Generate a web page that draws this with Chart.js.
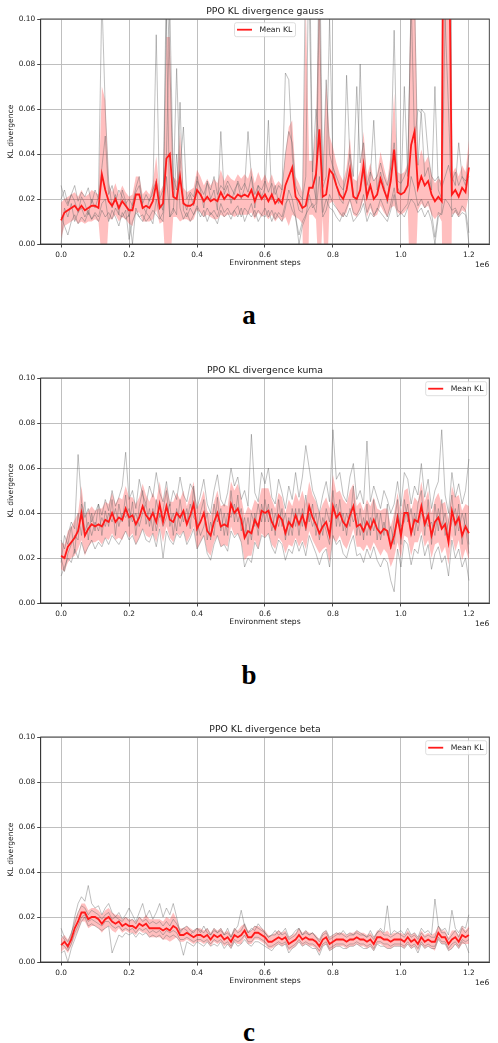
<!DOCTYPE html>
<html lang="en">
<head>
  <meta charset="UTF-8" />
  <title>PPO KL divergence</title>
  <script src="https://cdn.jsdelivr.net/npm/chart.js"></script>
  <style>
    body {
      margin: 0;
      width: 498px;
      height: 1043px;
      position: relative;
      overflow: hidden;
      background: #fff;
    }
    .panel {
      position: absolute;
      left: 0;
      width: 498px;
      height: 280px;
    }
    .letter {
      position: absolute;
      left: 0;
      width: 498px;
      text-align: center;
      font-family: "Liberation Serif", serif;
      font-weight: bold;
      font-size: 27px;
      line-height: 27px;
      color: #000;
    }
  </style>
</head>
<body>
  <div class="panel" style="top:-1px"><canvas id="chartGauss" width="498" height="280"></canvas></div>
  <div class="letter" style="top:302px">a</div>
  <div class="panel" style="top:358px"><canvas id="chartKuma" width="498" height="280"></canvas></div>
  <div class="letter" style="top:662px">b</div>
  <div class="panel" style="top:717px"><canvas id="chartBeta" width="498" height="280"></canvas></div>
  <div class="letter" style="top:1019px">c</div>

  <script>
    // environment steps, in units of 1e6
    const steps = [
      0.00,0.01,0.02,0.03,0.04,0.05,0.06,0.07,0.08,0.09,
      0.10,0.11,0.12,0.13,0.14,0.15,0.16,0.17,0.18,0.19,
      0.20,0.21,0.22,0.23,0.24,0.25,0.26,0.27,0.28,0.29,
      0.30,0.31,0.32,0.33,0.34,0.35,0.36,0.37,0.38,0.39,
      0.40,0.41,0.42,0.43,0.44,0.45,0.46,0.47,0.48,0.49,
      0.50,0.51,0.52,0.53,0.54,0.55,0.56,0.57,0.58,0.59,
      0.60,0.61,0.62,0.63,0.64,0.65,0.66,0.67,0.68,0.69,
      0.70,0.71,0.72,0.73,0.74,0.75,0.76,0.77,0.78,0.79,
      0.80,0.81,0.82,0.83,0.84,0.85,0.86,0.87,0.88,0.89,
      0.90,0.91,0.92,0.93,0.94,0.95,0.96,0.97,0.98,0.99,
      1.00,1.01,1.02,1.03,1.04,1.05,1.06,1.07,1.08,1.09,
      1.10,1.11,1.12,1.13,1.14,1.15,1.16,1.17,1.18,1.19,1.20
    ];

    const xTicks = [0, 0.2, 0.4, 0.6, 0.8, 1.0, 1.2];
    const xTickLabels = ["0.0", "0.2", "0.4", "0.6", "0.8", "1.0", "1.2"];
    const yTicks = [0, 0.02, 0.04, 0.06, 0.08, 0.10];
    const yTickLabels = ["0.00", "0.02", "0.04", "0.06", "0.08", "0.10"];

    // ---- gauss ----
    const gaussMean = [
      0.0105,0.014,0.015,0.016,0.017,0.015,0.017,0.015,0.016,0.017,
      0.017,0.016,0.031,0.024,0.019,0.017,0.020,0.016,0.019,0.017,
      0.015,0.015,0.022,0.022,0.016,0.017,0.016,0.019,0.027,0.016,
      0.018,0.038,0.040,0.021,0.020,0.030,0.018,0.017,0.017,0.018,
      0.024,0.022,0.019,0.021,0.019,0.020,0.019,0.023,0.020,0.022,
      0.021,0.020,0.022,0.021,0.022,0.021,0.024,0.019,0.023,0.020,
      0.022,0.019,0.022,0.018,0.020,0.018,0.026,0.030,0.034,0.021,
      0.019,0.016,0.017,0.025,0.025,0.031,0.051,0.021,0.022,0.033,
      0.031,0.026,0.022,0.020,0.024,0.033,0.021,0.020,0.024,0.035,
      0.021,0.026,0.020,0.022,0.029,0.024,0.020,0.028,0.042,0.023,
      0.022,0.023,0.026,0.044,0.050,0.025,0.030,0.026,0.028,0.022,
      0.019,0.021,0.019,0.300,0.160,0.022,0.024,0.021,0.025,0.023,0.034
    ];
    const gaussStd = [
      0.008,0.006,0.006,0.006,0.006,0.006,0.007,0.006,0.006,0.007,
      0.006,0.006,0.039,0.040,0.008,0.006,0.007,0.006,0.007,0.006,
      0.006,0.007,0.008,0.008,0.006,0.007,0.006,0.008,0.012,0.007,
      0.008,0.054,0.052,0.009,0.008,0.020,0.007,0.006,0.007,0.007,
      0.009,0.008,0.007,0.008,0.007,0.009,0.008,0.010,0.008,0.009,
      0.008,0.008,0.009,0.008,0.009,0.008,0.010,0.008,0.009,0.008,
      0.009,0.008,0.009,0.008,0.008,0.008,0.014,0.022,0.021,0.009,
      0.008,0.007,0.090,0.012,0.012,0.020,0.070,0.009,0.050,0.015,
      0.012,0.010,0.009,0.008,0.010,0.014,0.008,0.008,0.009,0.015,
      0.009,0.010,0.008,0.009,0.012,0.010,0.008,0.012,0.025,0.009,
      0.009,0.009,0.010,0.080,0.075,0.010,0.012,0.010,0.011,0.009,
      0.008,0.008,0.009,0.400,0.300,0.009,0.010,0.009,0.010,0.009,0.012
    ];
    const gaussRun1 = [
      0.026,0.020,0.017,0.022,0.019,0.014,0.021,0.018,0.013,0.020,
      0.016,0.021,0.110,0.060,0.028,0.016,0.022,0.013,0.024,0.019,
      0.012,0.018,0.025,0.030,0.017,0.014,0.020,0.022,0.093,0.018,
      0.015,0.120,0.080,0.024,0.078,0.030,0.019,0.015,0.022,0.017,
      0.030,0.024,0.016,0.028,0.020,0.024,0.015,0.050,0.022,0.026,
      0.018,0.024,0.027,0.020,0.025,0.050,0.030,0.016,0.026,0.021,
      0.025,0.055,0.020,0.026,0.018,0.024,0.076,0.073,0.040,0.022,
      0.015,0.014,0.130,0.110,0.028,0.020,0.140,0.025,0.030,0.100,
      0.035,0.026,0.020,0.018,0.075,0.038,0.022,0.018,0.080,0.030,
      0.020,0.030,0.055,0.024,0.032,0.026,0.018,0.035,0.095,0.025,
      0.022,0.070,0.030,0.110,0.045,0.060,0.058,0.030,0.034,0.024,
      0.070,0.024,0.020,0.500,0.400,0.030,0.026,0.045,0.030,0.026,0.040
    ];
    const gaussRun2 = [
      0.012,0.008,0.004,0.010,0.013,0.009,0.012,0.010,0.014,0.011,
      0.013,0.010,0.015,0.012,0.014,0.011,0.016,0.013,0.012,0.015,
      0.002,0.010,0.014,0.012,0.013,0.010,0.012,0.015,0.013,0.011,
      0.014,0.100,0.012,0.016,0.013,0.063,0.015,0.012,0.016,0.013,
      0.017,0.014,0.012,0.016,0.013,0.015,0.012,0.018,0.014,0.016,
      0.013,0.015,0.017,0.012,0.016,0.014,0.018,0.012,0.015,0.013,
      0.016,0.012,0.015,0.011,0.014,0.012,0.018,0.020,0.015,0.012,
      0.004,0.010,0.013,0.016,0.018,0.014,0.030,0.012,0.015,0.022,
      0.018,0.016,0.014,0.012,0.016,0.020,0.014,0.013,0.016,0.022,
      0.014,0.018,0.013,0.015,0.020,0.016,0.012,0.018,0.025,0.015,
      0.014,0.016,0.018,0.030,0.025,0.017,0.020,0.016,0.019,0.014,
      0.003,0.014,0.013,0.020,0.018,0.015,0.016,0.013,0.017,0.015,0.005
    ];
    const gaussRun3 = [
      0.020,0.024,0.018,0.022,0.026,0.019,0.023,0.021,0.025,0.018,
      0.024,0.020,0.034,0.048,0.022,0.026,0.019,0.024,0.021,0.018,
      0.020,0.017,0.023,0.026,0.018,0.022,0.019,0.024,0.028,0.020,
      0.024,0.040,0.105,0.030,0.024,0.034,0.052,0.020,0.023,0.021,
      0.028,0.025,0.022,0.027,0.024,0.030,0.022,0.026,0.024,0.028,
      0.025,0.022,0.028,0.024,0.027,0.023,0.030,0.022,0.026,0.024,
      0.028,0.023,0.027,0.022,0.026,0.024,0.040,0.050,0.045,0.026,
      0.022,0.020,0.030,0.140,0.032,0.060,0.045,0.028,0.073,0.040,
      0.034,0.030,0.026,0.024,0.030,0.040,0.030,0.070,0.036,0.045,
      0.026,0.032,0.028,0.030,0.036,0.030,0.026,0.034,0.045,0.028,
      0.027,0.030,0.034,0.105,0.110,0.035,0.060,0.058,0.040,0.030,
      0.028,0.030,0.025,0.030,0.035,0.028,0.032,0.026,0.030,0.028,0.030
    ];
    const gaussRun4 = [
      0.000,0.016,0.012,0.018,0.010,0.014,0.016,0.012,0.015,0.011,
      0.014,0.012,0.018,0.020,0.010,0.015,0.012,0.008,0.014,0.011,
      0.013,0.000,0.016,0.012,0.010,0.014,0.012,0.009,0.020,0.012,
      0.010,0.030,0.012,0.014,0.040,0.016,0.011,0.014,0.010,0.013,
      0.016,0.012,0.015,0.010,0.014,0.012,0.009,0.015,0.012,0.014,
      0.011,0.015,0.012,0.016,0.010,0.014,0.012,0.015,0.010,0.013,
      0.012,0.015,0.010,0.014,0.012,0.010,0.016,0.024,0.020,0.012,
      0.000,0.008,0.012,0.022,0.016,0.018,0.110,0.014,0.020,0.016,
      0.015,0.012,0.010,0.014,0.012,0.016,0.010,0.012,0.014,0.018,
      0.010,0.014,0.012,0.016,0.014,0.012,0.010,0.015,0.022,0.012,
      0.014,0.012,0.016,0.020,0.018,0.014,0.016,0.012,0.015,0.010,
      0.000,0.012,0.014,0.100,0.060,0.012,0.015,0.012,0.014,0.013,0.000
    ];

    // ---- kuma ----
    const kumaMean = [
      0.021,0.020,0.025,0.027,0.029,0.032,0.040,0.030,0.033,0.035,
      0.034,0.035,0.034,0.037,0.036,0.040,0.036,0.038,0.037,0.042,
      0.038,0.039,0.035,0.038,0.043,0.039,0.037,0.040,0.036,0.044,
      0.036,0.043,0.037,0.036,0.040,0.038,0.041,0.035,0.039,0.044,
      0.033,0.036,0.040,0.032,0.030,0.036,0.040,0.034,0.035,0.034,
      0.044,0.040,0.042,0.037,0.029,0.032,0.031,0.037,0.034,0.041,
      0.040,0.041,0.036,0.033,0.039,0.037,0.031,0.036,0.034,0.039,
      0.035,0.039,0.034,0.043,0.038,0.035,0.031,0.034,0.036,0.030,
      0.043,0.038,0.040,0.036,0.034,0.039,0.043,0.034,0.035,0.032,
      0.036,0.033,0.037,0.033,0.031,0.033,0.032,0.025,0.030,0.038,
      0.030,0.040,0.040,0.031,0.037,0.036,0.043,0.035,0.039,0.030,
      0.036,0.038,0.033,0.035,0.027,0.041,0.035,0.038,0.030,0.034,0.031
    ];
    const kumaStd = [
      0.006,0.006,0.007,0.007,0.008,0.008,0.012,0.009,0.008,0.008,
      0.007,0.007,0.008,0.008,0.008,0.009,0.008,0.009,0.009,0.010,
      0.009,0.008,0.009,0.009,0.010,0.009,0.008,0.009,0.009,0.010,
      0.009,0.009,0.008,0.009,0.009,0.008,0.009,0.008,0.009,0.010,
      0.009,0.009,0.010,0.009,0.009,0.009,0.010,0.009,0.009,0.009,
      0.010,0.010,0.011,0.010,0.010,0.011,0.010,0.009,0.010,0.010,
      0.011,0.010,0.010,0.009,0.010,0.010,0.009,0.010,0.009,0.010,
      0.010,0.011,0.010,0.011,0.010,0.010,0.009,0.010,0.011,0.012,
      0.014,0.011,0.010,0.010,0.010,0.011,0.010,0.009,0.010,0.009,
      0.010,0.010,0.010,0.009,0.010,0.009,0.010,0.009,0.010,0.011,
      0.010,0.010,0.011,0.010,0.010,0.009,0.011,0.010,0.011,0.010,
      0.010,0.011,0.011,0.010,0.010,0.011,0.012,0.010,0.011,0.010,0.012
    ];
    const kumaRun1 = [
      0.028,0.024,0.030,0.036,0.033,0.066,0.045,0.038,0.042,0.036,
      0.040,0.044,0.039,0.046,0.041,0.050,0.043,0.047,0.052,0.067,
      0.046,0.050,0.042,0.055,0.048,0.044,0.052,0.047,0.058,0.049,
      0.045,0.054,0.043,0.050,0.046,0.056,0.048,0.045,0.053,0.050,
      0.042,0.048,0.055,0.044,0.040,0.050,0.057,0.046,0.043,0.049,
      0.060,0.052,0.056,0.046,0.050,0.043,0.075,0.049,0.045,0.058,
      0.053,0.060,0.047,0.044,0.055,0.049,0.042,0.052,0.046,0.058,
      0.047,0.056,0.070,0.060,0.050,0.046,0.040,0.048,0.054,0.045,
      0.077,0.055,0.058,0.048,0.045,0.056,0.062,0.046,0.050,0.044,
      0.072,0.045,0.052,0.047,0.042,0.050,0.046,0.040,0.044,0.054,
      0.043,0.058,0.055,0.044,0.052,0.048,0.062,0.047,0.055,0.042,
      0.050,0.054,0.077,0.048,0.040,0.058,0.047,0.053,0.044,0.050,0.064
    ];
    const kumaRun2 = [
      0.012,0.016,0.020,0.018,0.024,0.020,0.027,0.022,0.025,0.028,
      0.024,0.027,0.025,0.029,0.026,0.030,0.028,0.026,0.029,0.032,
      0.028,0.030,0.026,0.029,0.033,0.028,0.027,0.031,0.025,0.033,
      0.020,0.032,0.028,0.026,0.031,0.029,0.032,0.026,0.029,0.033,
      0.024,0.027,0.030,0.022,0.019,0.026,0.030,0.025,0.026,0.023,
      0.032,0.029,0.031,0.027,0.016,0.020,0.018,0.027,0.024,0.030,
      0.029,0.031,0.025,0.022,0.028,0.026,0.019,0.024,0.022,0.028,
      0.023,0.027,0.021,0.030,0.026,0.022,0.017,0.022,0.024,0.016,
      0.030,0.026,0.028,0.022,0.020,0.026,0.030,0.021,0.022,0.018,
      0.024,0.020,0.025,0.019,0.016,0.020,0.018,0.010,0.005,0.024,
      0.016,0.028,0.026,0.017,0.024,0.022,0.030,0.021,0.026,0.015,
      0.022,0.025,0.018,0.021,0.012,0.028,0.020,0.024,0.016,0.020,0.010
    ];
    const kumaRun3 = [
      0.018,0.030,0.026,0.034,0.022,0.040,0.030,0.045,0.028,0.040,
      0.032,0.044,0.030,0.041,0.034,0.046,0.030,0.044,0.036,0.048,
      0.034,0.045,0.030,0.043,0.050,0.035,0.042,0.032,0.046,0.038,
      0.041,0.050,0.034,0.040,0.032,0.046,0.036,0.042,0.033,0.052,
      0.030,0.040,0.046,0.028,0.036,0.030,0.047,0.032,0.040,0.030,
      0.050,0.036,0.048,0.032,0.038,0.026,0.040,0.034,0.044,0.036,
      0.046,0.036,0.042,0.030,0.046,0.034,0.040,0.030,0.042,0.034,
      0.042,0.034,0.048,0.036,0.044,0.030,0.040,0.030,0.042,0.036,
      0.050,0.034,0.046,0.032,0.040,0.034,0.052,0.030,0.042,0.028,
      0.044,0.030,0.046,0.028,0.040,0.030,0.044,0.024,0.036,0.046,
      0.026,0.046,0.036,0.042,0.030,0.044,0.050,0.030,0.046,0.026,
      0.044,0.032,0.046,0.030,0.036,0.048,0.030,0.044,0.026,0.040,0.026
    ];
    const kumaRun4 = [
      0.020,0.014,0.022,0.026,0.030,0.028,0.044,0.032,0.036,0.030,
      0.036,0.032,0.038,0.034,0.040,0.036,0.042,0.034,0.040,0.038,
      0.042,0.036,0.040,0.034,0.040,0.044,0.034,0.042,0.032,0.040,
      0.034,0.038,0.044,0.030,0.042,0.034,0.040,0.036,0.044,0.038,
      0.036,0.030,0.034,0.040,0.028,0.044,0.036,0.042,0.030,0.040,
      0.038,0.044,0.036,0.042,0.030,0.038,0.028,0.040,0.030,0.044,
      0.036,0.044,0.032,0.040,0.034,0.042,0.028,0.038,0.030,0.042,
      0.030,0.042,0.032,0.040,0.034,0.040,0.028,0.038,0.032,0.026,
      0.040,0.044,0.034,0.040,0.030,0.042,0.036,0.040,0.030,0.038,
      0.030,0.038,0.032,0.040,0.028,0.036,0.030,0.034,0.026,0.040,
      0.034,0.036,0.044,0.030,0.040,0.032,0.040,0.038,0.034,0.036,
      0.030,0.042,0.034,0.040,0.030,0.036,0.042,0.032,0.040,0.034,0.022
    ];

    // ---- beta ----
    const betaMean = [
      0.0075,0.009,0.007,0.010,0.015,0.018,0.022,0.022,0.019,0.020,
      0.020,0.019,0.017,0.019,0.020,0.018,0.017,0.018,0.016,0.017,
      0.016,0.016,0.015,0.017,0.016,0.017,0.015,0.015,0.015,0.015,
      0.014,0.015,0.014,0.016,0.015,0.012,0.012,0.013,0.012,0.011,
      0.012,0.012,0.011,0.012,0.010,0.012,0.011,0.012,0.010,0.011,
      0.009,0.012,0.011,0.012,0.014,0.011,0.011,0.013,0.013,0.012,
      0.011,0.009,0.009,0.010,0.011,0.010,0.011,0.008,0.009,0.010,
      0.012,0.010,0.011,0.010,0.010,0.009,0.007,0.010,0.011,0.008,
      0.009,0.010,0.010,0.010,0.009,0.010,0.010,0.011,0.010,0.010,
      0.009,0.010,0.008,0.011,0.011,0.010,0.010,0.009,0.010,0.010,
      0.010,0.009,0.011,0.009,0.010,0.008,0.011,0.009,0.010,0.009,
      0.009,0.013,0.011,0.011,0.008,0.010,0.011,0.009,0.012,0.011,0.012
    ];
    const betaStd = [
      0.003,0.003,0.003,0.003,0.004,0.004,0.004,0.004,0.004,0.004,
      0.004,0.004,0.004,0.004,0.004,0.004,0.004,0.003,0.003,0.003,
      0.003,0.003,0.003,0.003,0.003,0.004,0.004,0.004,0.004,0.004,
      0.004,0.005,0.005,0.006,0.004,0.003,0.003,0.003,0.003,0.003,
      0.003,0.003,0.003,0.003,0.003,0.003,0.003,0.003,0.003,0.003,
      0.003,0.003,0.003,0.004,0.003,0.003,0.003,0.003,0.003,0.003,
      0.003,0.003,0.003,0.003,0.003,0.003,0.003,0.003,0.003,0.003,
      0.003,0.003,0.003,0.003,0.003,0.003,0.003,0.003,0.003,0.003,
      0.003,0.003,0.003,0.003,0.003,0.003,0.003,0.003,0.003,0.003,
      0.003,0.003,0.003,0.003,0.003,0.003,0.004,0.003,0.003,0.003,
      0.003,0.003,0.003,0.003,0.003,0.003,0.003,0.003,0.003,0.003,
      0.004,0.003,0.003,0.003,0.003,0.004,0.003,0.003,0.004,0.003,0.004
    ];
    const betaRun1 = [
      0.012,0.010,0.006,0.012,0.020,0.026,0.029,0.027,0.034,0.026,
      0.024,0.025,0.021,0.024,0.026,0.022,0.020,0.022,0.019,0.021,
      0.024,0.021,0.018,0.022,0.026,0.020,0.023,0.019,0.022,0.026,
      0.020,0.024,0.021,0.026,0.020,0.013,0.015,0.014,0.012,0.014,
      0.015,0.013,0.016,0.013,0.012,0.015,0.013,0.014,0.012,0.015,
      0.011,0.014,0.016,0.023,0.016,0.013,0.015,0.014,0.017,0.015,
      0.013,0.011,0.012,0.014,0.012,0.013,0.015,0.011,0.012,0.014,
      0.015,0.012,0.014,0.012,0.013,0.011,0.010,0.013,0.014,0.011,
      0.012,0.013,0.012,0.014,0.012,0.013,0.012,0.014,0.013,0.012,
      0.011,0.014,0.011,0.013,0.015,0.013,0.025,0.012,0.014,0.013,
      0.014,0.012,0.015,0.012,0.013,0.011,0.015,0.013,0.014,0.012,
      0.028,0.016,0.014,0.015,0.012,0.023,0.015,0.013,0.016,0.015,0.021
    ];
    const betaRun2 = [
      0.004,0.005,0.000,0.006,0.010,0.014,0.018,0.020,0.016,0.017,
      0.016,0.015,0.014,0.015,0.016,0.004,0.008,0.012,0.011,0.013,
      0.012,0.013,0.011,0.013,0.012,0.013,0.011,0.012,0.011,0.012,
      0.010,0.012,0.011,0.012,0.011,0.009,0.003,0.009,0.008,0.007,
      0.009,0.008,0.007,0.009,0.007,0.008,0.007,0.009,0.006,0.008,
      0.006,0.009,0.007,0.008,0.010,0.008,0.007,0.009,0.009,0.008,
      0.007,0.006,0.005,0.007,0.008,0.007,0.008,0.004,0.006,0.007,
      0.009,0.007,0.008,0.007,0.006,0.006,0.003,0.007,0.008,0.005,
      0.006,0.007,0.007,0.006,0.006,0.007,0.007,0.008,0.007,0.006,
      0.006,0.007,0.005,0.008,0.007,0.007,0.006,0.006,0.007,0.007,
      0.007,0.006,0.008,0.006,0.007,0.004,0.008,0.006,0.007,0.006,
      0.006,0.010,0.008,0.008,0.005,0.006,0.008,0.006,0.009,0.008,0.004
    ];
    const betaRun3 = [
      0.015,0.011,0.009,0.013,0.017,0.022,0.025,0.024,0.021,0.023,
      0.022,0.021,0.019,0.021,0.022,0.019,0.020,0.019,0.018,0.020,
      0.018,0.019,0.017,0.020,0.018,0.019,0.017,0.018,0.017,0.018,
      0.016,0.018,0.016,0.019,0.017,0.014,0.015,0.016,0.014,0.013,
      0.015,0.014,0.013,0.015,0.012,0.014,0.013,0.015,0.012,0.013,
      0.011,0.015,0.013,0.014,0.017,0.013,0.014,0.016,0.015,0.014,
      0.013,0.011,0.012,0.012,0.014,0.012,0.013,0.010,0.011,0.012,
      0.015,0.012,0.013,0.012,0.013,0.011,0.009,0.012,0.013,0.010,
      0.011,0.012,0.013,0.012,0.011,0.012,0.012,0.013,0.012,0.012,
      0.011,0.012,0.010,0.013,0.014,0.012,0.012,0.011,0.012,0.013,
      0.012,0.011,0.013,0.011,0.012,0.010,0.013,0.011,0.012,0.011,
      0.011,0.016,0.013,0.013,0.010,0.012,0.014,0.011,0.015,0.013,0.015
    ];
    const betaRun4 = [
      0.008,0.007,0.005,0.008,0.013,0.016,0.020,0.021,0.018,0.019,
      0.018,0.017,0.016,0.018,0.018,0.016,0.015,0.016,0.014,0.015,
      0.014,0.015,0.013,0.015,0.014,0.015,0.013,0.014,0.013,0.014,
      0.012,0.014,0.013,0.014,0.013,0.010,0.010,0.011,0.010,0.009,
      0.010,0.010,0.009,0.010,0.008,0.010,0.009,0.010,0.008,0.009,
      0.007,0.010,0.009,0.010,0.012,0.009,0.009,0.011,0.011,0.010,
      0.009,0.007,0.007,0.008,0.009,0.008,0.009,0.006,0.007,0.008,
      0.010,0.008,0.009,0.008,0.008,0.007,0.005,0.008,0.009,0.006,
      0.007,0.008,0.008,0.008,0.007,0.008,0.008,0.009,0.008,0.008,
      0.007,0.008,0.006,0.009,0.009,0.008,0.008,0.007,0.008,0.008,
      0.008,0.007,0.009,0.007,0.008,0.006,0.009,0.007,0.008,0.007,
      0.007,0.011,0.009,0.009,0.006,0.008,0.009,0.007,0.010,0.009,0.010
    ];

    const meanColor = "#ff1a1a";
    const bandColor = "rgba(255, 0, 0, 0.25)";
    const runColor = "rgba(100, 100, 100, 0.45)";
    const axisColor = "#333333";
    const textColor = "#1a1a1a";
    const fontFamily = "'DejaVu Sans', sans-serif";

    Chart.defaults.font.family = fontFamily;
    Chart.defaults.color = textColor;

    // closed frame round the plot, the "1e6" offset text and the boxed legend
    const axesExtras = {
      id: "axesExtras",
      afterDatasetsDraw(chart, args, opts) {
        const { ctx, chartArea: a } = chart;
        ctx.save();
        ctx.strokeStyle = axisColor;
        ctx.lineWidth = 0.9;
        ctx.strokeRect(a.left, a.top, a.right - a.left, a.bottom - a.top);

        ctx.fillStyle = textColor;
        ctx.font = "7.6px " + fontFamily;
        ctx.textAlign = "right";
        ctx.textBaseline = "middle";
        ctx.fillText("1e6", a.right, a.bottom + 21);

        const meanSet = chart.data.datasets[chart.data.datasets.length - 1];
        const w = 61, h = 14;
        const x = opts.legendAlign === "center" ? (a.left + a.right) / 2 - w / 2 : a.right - w - 2.6;
        const y = a.top + 3.7;
        ctx.fillStyle = "rgba(255,255,255,0.85)";
        ctx.strokeStyle = "#d4d4d4";
        ctx.lineWidth = 0.8;
        ctx.beginPath();
        ctx.roundRect(x, y, w, h, 2);
        ctx.fill();
        ctx.stroke();
        ctx.strokeStyle = meanSet.borderColor;
        ctx.lineWidth = meanSet.borderWidth;
        ctx.beginPath();
        ctx.moveTo(x + 2.5, y + h / 2);
        ctx.lineTo(x + 17.5, y + h / 2);
        ctx.stroke();
        ctx.fillStyle = textColor;
        ctx.font = "7.7px " + fontFamily;
        ctx.textAlign = "left";
        ctx.fillText(meanSet.label, x + 25, y + h / 2 + 0.5);
        ctx.restore();
      }
    };

    function toPoints(values) {
      return steps.map((s, i) => ({ x: s, y: values[i] }));
    }

    function drawPanel(id, title, mean, std, runs, legendAlign) {
      const upper = mean.map((m, i) => m + std[i]);
      const lower = mean.map((m, i) => m - std[i]);
      const datasets = [
        { label: "std upper", data: toPoints(upper), borderWidth: 0, backgroundColor: bandColor, fill: "+1", order: 3 },
        { label: "std lower", data: toPoints(lower), borderWidth: 0, fill: false, order: 3 }
      ];
      runs.forEach((run, k) => {
        datasets.push({ label: "run " + (k + 1), data: toPoints(run), borderColor: runColor, borderWidth: 0.9, fill: false, order: 2 });
      });
      datasets.push({ label: "Mean KL", data: toPoints(mean), borderColor: meanColor, borderWidth: 1.8, fill: false, order: 1 });

      new Chart(document.getElementById(id), {
        type: "line",
        data: { datasets: datasets },
        plugins: [axesExtras],
        options: {
          responsive: false,
          animation: false,
          layout: { padding: { left: 0, right: 8.7, top: 0, bottom: 5 } },
          elements: {
            point: { radius: 0 },
            line: { tension: 0 }
          },
          scales: {
            x: {
              type: "linear",
              min: -0.06,
              max: 1.26,
              afterBuildTicks: (scale) => { scale.ticks = xTicks.map(v => ({ value: v })); },
              afterFit: (scale) => { scale.height = 30; },
              ticks: {
                font: { size: 7.4 },
                color: textColor,
                padding: 3,
                maxRotation: 0,
                autoSkip: false,
                callback: (v) => xTickLabels[xTicks.indexOf(v)]
              },
              grid: { color: "#b8b8b8", lineWidth: 0.9, tickLength: 3.5, tickColor: axisColor },
              border: { color: axisColor, width: 0.9 },
              title: {
                display: true,
                text: "Environment steps",
                font: { size: 7.6 },
                color: textColor,
                padding: { top: 0, bottom: 6.4 }
              }
            },
            y: {
              type: "linear",
              min: 0,
              max: 0.1,
              afterBuildTicks: (scale) => { scale.ticks = yTicks.map(v => ({ value: v })); },
              afterFit: (scale) => { scale.width = 40.7; },
              ticks: {
                font: { size: 7.4 },
                color: textColor,
                padding: 2,
                autoSkip: false,
                callback: (v) => yTickLabels[yTicks.indexOf(v)]
              },
              grid: { color: "#b8b8b8", lineWidth: 0.9, tickLength: 3.5, tickColor: axisColor },
              border: { color: axisColor, width: 0.9 },
              title: {
                display: true,
                text: "KL divergence",
                font: { size: 7.6 },
                color: textColor,
                padding: { top: 6.4, bottom: 0 }
              }
            }
          },
          plugins: {
            legend: { display: false },
            tooltip: { enabled: false },
            title: {
              display: true,
              text: title,
              fullSize: false,
              color: textColor,
              font: { size: 9.3, weight: "normal" },
              padding: { top: 6.84, bottom: 2 }
            },
            axesExtras: { legendAlign: legendAlign }
          }
        }
      });
    }

    drawPanel("chartGauss", "PPO KL divergence gauss", gaussMean, gaussStd,
      [gaussRun1, gaussRun2, gaussRun3, gaussRun4], "center");
    drawPanel("chartKuma", "PPO KL divergence kuma", kumaMean, kumaStd,
      [kumaRun1, kumaRun2, kumaRun3, kumaRun4], "right");
    drawPanel("chartBeta", "PPO KL divergence beta", betaMean, betaStd,
      [betaRun1, betaRun2, betaRun3, betaRun4], "right");
  </script>
</body>
</html>
